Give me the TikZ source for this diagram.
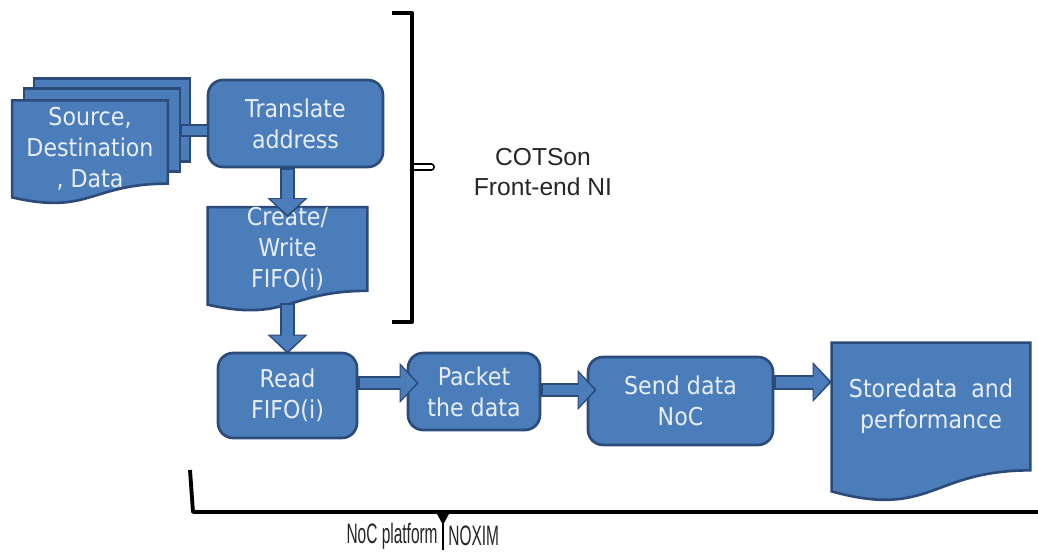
\documentclass[tikz,border=0pt]{standalone}
\usepackage{fontspec}
\setmainfont{Liberation Sans}
\newfontfamily\boxfont[FakeStretch=0.9]{DejaVu Sans}
\usepackage{graphicx}
\usetikzlibrary{arrows.meta, calc, backgrounds}

\definecolor{boxblue}{HTML}{4A7DBA}
\definecolor{boxline}{HTML}{2D4B7A}
\definecolor{boxtext}{HTML}{E8EEF7}
\definecolor{labeltext}{HTML}{262626}

% page with a wavy lower edge, hung from the node's box (optional lift)
\newcommand\docshape[2][0pt]{%
    \path[docfill] let \p1 = ([yshift=#1]#2.north west), \p2 = ([yshift=#1]#2.south east) in
        (\x1,\y1) -- (\x2,\y1) -- (\x2,\y2)
        .. controls ({0.5*\x1+0.5*\x2},\y2) and ({0.5*\x1+0.5*\x2},{\y1+1.38*(\y2-\y1)}) ..
        (\x1,{\y1+1.165*(\y2-\y1)}) -- cycle;}

% fat arrow with a dark rim
\newcommand\blockarrow[2]{%
    \draw[arrowout] #1 -- #2;
    \draw[arrowin] #1 -- #2;}

\begin{document}
\begin{tikzpicture}[
            x = 0.02cm, y = -0.02cm, % one unit = one pixel of the sketch
            line join = round,
            font = \boxfont\fontsize{14}{17.5}\selectfont
        ]

        \tikzstyle{process}=[
            draw = boxline,
            line width = 1.5pt,
            fill = boxblue,
            rounded corners = 0.3cm,
            text = boxtext,
            align = center,
            inner sep = 0pt
        ]
        \tikzstyle{docbox}=[text = boxtext, align = center, inner sep = 0pt]
        \tikzstyle{docfill}=[draw = boxline, line width = 1.5pt, fill = boxblue]
        \tikzstyle{note}=[text = labeltext, align = center, font = \fontsize{14}{17}\selectfont]
        \tikzstyle{platform}=[text = labeltext, inner sep = 0pt, font = \fontsize{16}{18}\selectfont]
        \tikzstyle{brace}=[line width = 2.2pt, black]
        \tikzstyle{arrowout}=[draw = boxline, line width = 0.30cm,
            -{Triangle[width=0.80cm, length=0.38cm, line width=0pt]}]
        \tikzstyle{arrowin}=[draw = boxblue, line width = 0.22cm,
            shorten > = 0.05cm, shorten < = 0.04cm,
            -{Triangle[width=0.68cm, length=0.31cm, line width=0pt]}]
        \tikzstyle{barout}=[draw = boxline, line width = 0.26cm]
        \tikzstyle{barin}=[draw = boxblue, line width = 0.18cm, shorten < = 0.04cm]

        \useasboundingbox (0,0) rectangle (1038,553);

	\node[process, minimum width=3.5cm, minimum height=1.74cm] (translate) at (295.5,123.5) {Translate\\address};
	\node[docbox, minimum width=3.1cm, minimum height=1.6cm] (src) at (90,149) {Source,\\Destination\\, Data};
	\node[docbox, minimum width=3.18cm, minimum height=1.56cm] (create) at (287.5,249) {Create/\\Write\\FIFO(i)};
	\node[process, minimum width=2.78cm, minimum height=1.7cm] (read) at (287.5,395.5) {Read\\FIFO(i)};
	\node[process, minimum width=2.64cm, minimum height=1.54cm] (packet) at (474,391.5) {Packet\\the data};
	\node[process, minimum width=3.7cm, minimum height=1.76cm] (send) at (680.5,401) {Send data\\NoC};
	\node[docbox, minimum width=3.96cm, minimum height=2.54cm] (store) at (931,406.5) {Storedata \ and\\performance};

	\node[note] (cotson) at (543,172) {COTSon\\Front-end NI};
	\node[platform, anchor=east] (noc) at (438,536) {\scalebox{0.55}[1]{NoC platform}};
	\node[platform, anchor=west] (noxim) at (448,536) {\scalebox{0.55}[1]{NOXIM}};

	\begin{pgfonlayer}{background}
	    % pages stacked behind the source
	    \draw[docfill] ([shift={(22,-29)}]src.north west) rectangle ([shift={(22,-29)}]src.south east);
	    \draw[docfill] ([shift={(12,-19)}]src.north west) rectangle ([shift={(12,-19)}]src.south east);
	    \docshape[0.14cm]{src}
	    \docshape{create}
	    \docshape{store}
	\end{pgfonlayer}

	\coordinate (j1) at ([yshift=-0.15cm]translate.west);
	\coordinate (p2) at ([shift={(12,-12)}]src.east);
	\coordinate (j2) at ([shift={(0.24cm,0.17cm)}]packet.west);
	\coordinate (j3) at ([shift={(0.2cm,0.22cm)}]send.west);
	\coordinate (j4) at ([yshift=0.49cm]store.west);

	\draw[barout] (j1 -| p2) -- (j1);
	\draw[barin] (j1 -| p2) -- (j1);
	\blockarrow{(translate.south -| create.north)}{([yshift=-0.2cm]create.north)}
	\blockarrow{([yshift=-0.24cm]create.south)}{([yshift=-0.04cm]read.north)}
	\blockarrow{(j2 -| read.east)}{(j2)}
	\blockarrow{(j3 -| packet.east)}{(j3)}
	\blockarrow{(j4 -| send.east)}{(j4)}

	% bracket round the front-end part
	\draw[brace] (392,13) -- (412,13) -- (412,322) -- (392,322);
	\draw[line width=0.9pt, rounded corners=1.5pt] (412,164) rectangle (434,170);

	% brace under the NoC part
	\draw[brace] (190,470) -- (193,512) -- (1038,512);
	\fill (436,512) -- (450,512) -- (443,525) -- cycle;
	\draw[line width=1.2pt] (443,512) -- (443,550);

    \end{tikzpicture}
\end{document}
